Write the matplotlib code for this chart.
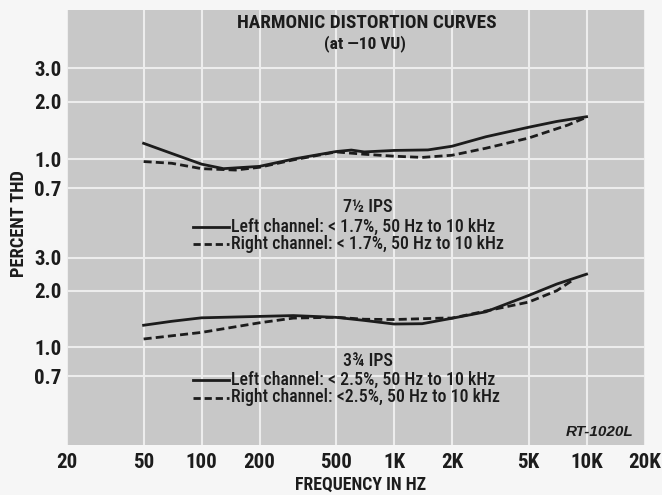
import os
import matplotlib
matplotlib.use('Agg')
import matplotlib.pyplot as plt
from matplotlib import font_manager as fm
from matplotlib.font_manager import FontProperties
from matplotlib.lines import Line2D

# ---------------- data ----------------
x_ticks = [20, 50, 100, 200, 500, 1000, 2000, 5000, 10000, 20000]
x_tick_labels = ['20', '50', '100', '200', '500', '1K', '2K', '5K', '10K', '20K']
y_ticks = [0.7, 1.0, 2.0, 3.0]
y_tick_labels = ['0.7', '1.0', '2.0', '3.0']

# 7 1/2 IPS
f_75_left = [50, 70, 100, 130, 200, 300, 500, 600, 700, 1000, 1500, 2000, 3000, 5000, 7000, 10000]
thd_75_left = [1.21, 1.07, 0.94, 0.89, 0.915, 1.0, 1.095, 1.115, 1.09, 1.11, 1.117, 1.168, 1.31, 1.47, 1.577, 1.67]
f_75_right = [50, 70, 100, 150, 200, 300, 500, 700, 1000, 1400, 2000, 3000, 5000, 8000, 10000]
thd_75_right = [0.97, 0.95, 0.89, 0.875, 0.905, 0.99, 1.09, 1.06, 1.035, 1.02, 1.047, 1.14, 1.29, 1.51, 1.66]

# 3 3/4 IPS
f_375_left = [50, 70, 100, 200, 300, 500, 700, 1000, 1400, 2000, 3000, 5000, 7000, 10000]
thd_375_left = [1.31, 1.375, 1.435, 1.46, 1.475, 1.443, 1.39, 1.33, 1.335, 1.427, 1.545, 1.887, 2.17, 2.45]
f_375_right = [50, 100, 200, 300, 500, 700, 1000, 1800, 2000, 3000, 5000, 7000, 8600]
thd_375_right = [1.107, 1.2, 1.35, 1.43, 1.445, 1.41, 1.405, 1.43, 1.43, 1.56, 1.74, 2.0, 2.3]

speed_labels = ['7½ IPS', '3¾ IPS']
legend_top = ['Left channel: < 1.7%, 50 Hz to 10 kHz', 'Right channel: < 1.7%, 50 Hz to 10 kHz']
legend_bot = ['Left channel: < 2.5%, 50 Hz to 10 kHz', 'Right channel: <2.5%, 50 Hz to 10 kHz']

# ---------------- fonts: look for a narrow / condensed face ----------------
PREF = ['liberationsansnarrow', 'robotocondensed', 'notosans', 'opensans', 'dejavusans', 'lato', 'inter']
WEIGHTS = ['light', 'thin', 'medium', 'black', 'heavy', 'semibold', 'extrabold', 'bold',
           'semi', 'extra', 'ultra', 'italic', 'oblique']


def find_narrow(want):
    best = None
    for f in fm.fontManager.ttflist:
        base = os.path.basename(f.fname).lower().replace('_', '').replace('-', '')
        if not ('condensed' in base or 'narrow' in base):
            continue
        if 'semicondensed' in base or 'extracondensed' in base or 'ultracondensed' in base:
            continue
        core = base.replace('condensed', '').replace('narrow', '')
        found = [w for w in WEIGHTS if w in core]
        if want == 'regular':
            if found:
                continue
        else:
            if want not in found or any(w in found for w in ('italic', 'oblique', 'semibold', 'extrabold')):
                continue
        rank = len(PREF)
        for i, p in enumerate(PREF):
            if base.startswith(p):
                rank = i
                break
        if best is None or rank < best[0]:
            best = (rank, f.fname)
    return best[1] if best else None


BOLD_FILE = find_narrow('bold')
MED_FILE = find_narrow('medium') or find_narrow('regular')
SCALE = 1.0 if BOLD_FILE else 0.85


def fp(size, bold=True):
    path = BOLD_FILE if bold else (MED_FILE or BOLD_FILE)
    if path:
        return FontProperties(fname=path, size=size)
    return FontProperties(family='Roboto', weight='bold' if bold else 'medium', size=size * SCALE)


# ---------------- style ----------------
BG = '#c8c8c8'
FIGBG = '#f6f6f6'
GRID = '#ededed'
INK = '#1c1c1c'

W, H = 662, 495
fig = plt.figure(figsize=(W / 100, H / 100), dpi=100)
fig.patch.set_facecolor(FIGBG)


def px_box(x0, y0, x1, y1):
    return [x0 / W, 1 - y1 / H, (x1 - x0) / W, (y1 - y0) / H]


ax_top = fig.add_axes(px_box(67, 10, 644.5, 250))
ax_bot = fig.add_axes(px_box(67, 250, 644.5, 445))

for ax, ylim in ((ax_top, (0.332, 6.09)), (ax_bot, (0.302, 3.294))):
    ax.set_facecolor(BG)
    ax.set_xscale('log')
    ax.set_yscale('log')
    ax.set_xlim(20, 20000)
    ax.set_ylim(*ylim)
    for s in ax.spines.values():
        s.set_visible(False)
    ax.set_xticks(x_ticks)
    ax.set_xticks([], minor=True)
    ax.set_yticks(y_ticks)
    ax.set_yticks([], minor=True)
    ax.set_yticklabels(y_tick_labels, color=INK)
    for lab in ax.get_yticklabels():
        lab.set_fontproperties(fp(15))
    ax.tick_params(length=0, pad=4)
    ax.grid(True, which='major', color=GRID, lw=1.5)
    ax.set_axisbelow(True)

ax_top.set_xticklabels([])
ax_bot.set_xticklabels(x_tick_labels, color=INK)
for lab in ax_bot.get_xticklabels():
    lab.set_fontproperties(fp(15))
ax_bot.tick_params(axis='x', pad=6)

dash = (0, (2.9, 1.5))
ax_top.plot(f_75_right, thd_75_right, color=INK, lw=2.0, ls=dash)
ax_top.plot(f_75_left, thd_75_left, color=INK, lw=2.0)
ax_bot.plot(f_375_right, thd_375_right, color=INK, lw=2.0, ls=dash)
ax_bot.plot(f_375_left, thd_375_left, color=INK, lw=2.0)

# ---------------- texts ----------------
fig.text(367 / W, 1 - 23.5 / H, 'HARMONIC DISTORTION CURVES', ha='center', va='center',
         fontproperties=fp(13.9), color=INK)
fig.text(365 / W, 1 - 44 / H, '(at —10 VU)', ha='center', va='center',
         fontproperties=fp(12.5), color=INK)
fig.text(19 / W, 1 - 224 / H, 'PERCENT THD', ha='center', va='center', rotation=90,
         fontproperties=fp(13.3), color=INK)
fig.text(361 / W, 1 - 485 / H, 'FREQUENCY IN HZ', ha='center', va='center',
         fontproperties=fp(12.8), color=INK)
fig.text(633 / W, 1 - 431.5 / H, 'RT-1020L', ha='right', va='center',
         fontsize=11, fontweight='bold', style='italic', family='Liberation Sans', color=INK)


def legend_block(speed, labels, y_speed, y_rows):
    fig.text(368 / W, 1 - y_speed / H, speed, ha='center', va='center',
             fontproperties=fp(13.0, bold=False), color=INK)
    for lab, y, ls in zip(labels, y_rows, ['-', (0, (2.6, 1.4))]):
        fig.add_artist(Line2D([193 / W, 229 / W], [1 - y / H, 1 - y / H],
                              transform=fig.transFigure, color=INK, lw=2.0, ls=ls))
        fig.text(231 / W, 1 - y / H, lab, ha='left', va='center',
                 fontproperties=fp(12.9, bold=False), color=INK)


legend_block(speed_labels[0], legend_top, 207.5, [226.5, 244.5])
legend_block(speed_labels[1], legend_bot, 360.5, [379.5, 397.5])

fig.savefig('out.png', dpi=100, facecolor=FIGBG)
